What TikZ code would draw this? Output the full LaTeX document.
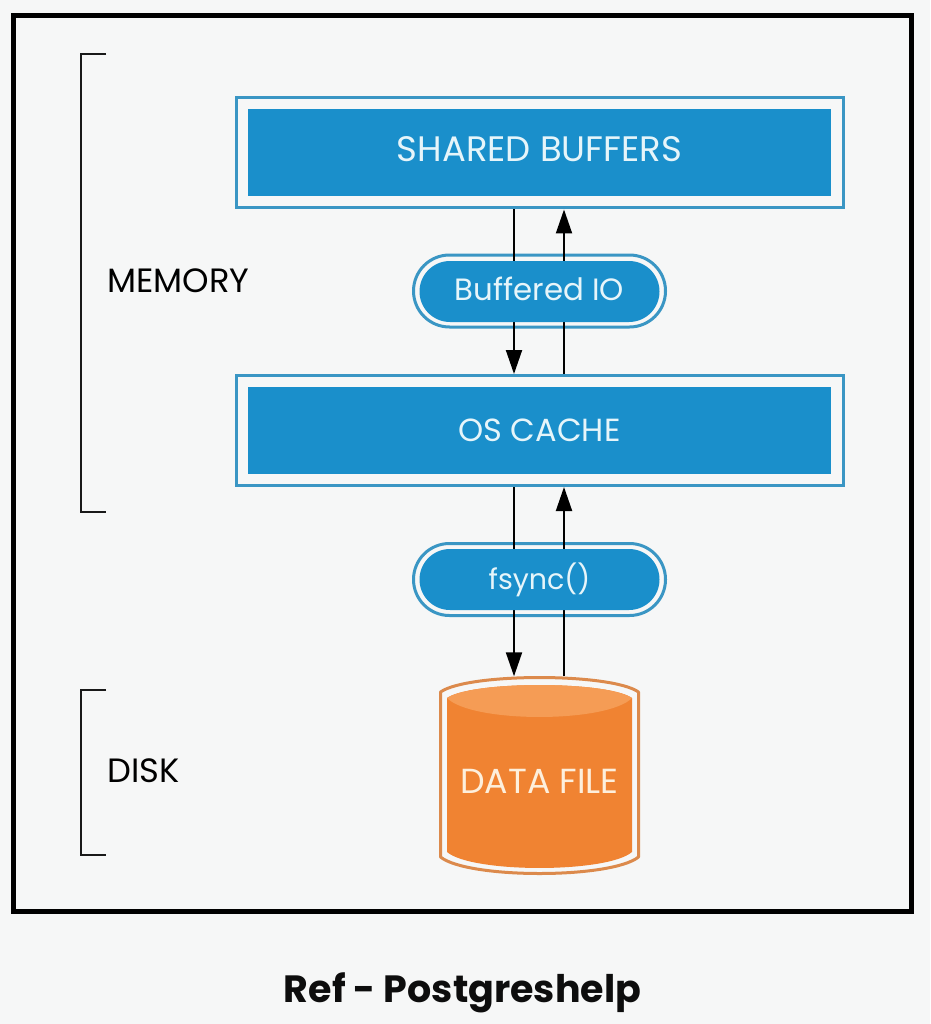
\documentclass[tikz,border=0pt]{standalone}
\usepackage{fontspec}
\setmainfont{Poppins}
\usetikzlibrary{shapes.misc, arrows.meta}

\definecolor{pagebg}{HTML}{F6F7F7}
\definecolor{boxblue}{HTML}{1A8FCB}
\definecolor{ringblue}{HTML}{3A96C4}
\definecolor{boxtext}{HTML}{E6F5FA}
\definecolor{drumorange}{HTML}{F08332}
\definecolor{drumtop}{HTML}{F59C55}
\definecolor{drumring}{HTML}{DC8A4C}
\definecolor{drumtext}{HTML}{FDEFDC}

\begin{document}
\begin{tikzpicture}[
    x=1pt,
    y=-1pt,
    inner sep=0pt,
    memoryring/.style={rectangle, draw=ringblue, line width=3pt,
        minimum width=607pt, minimum height=110pt, outer sep=1.5pt},
    memorybox/.style={rectangle, fill=boxblue, minimum width=583pt, minimum height=87pt,
        text=boxtext},
    pillring/.style={rounded rectangle, draw=ringblue, line width=3pt,
        minimum width=252pt, minimum height=72pt, outer sep=1.5pt},
    pillbox/.style={rounded rectangle, fill=boxblue, minimum width=240pt,
        minimum height=61pt, text=boxtext},
    sidelabel/.style={anchor=west, text=black, font=\fontsize{33.7}{40}\selectfont},
    bracketline/.style={draw=black!90, line width=2pt},
    flow/.style={draw=black, line width=2pt, -{Triangle[width=16pt,length=24pt]}},
]
    % page and frame
    \fill[pagebg] (0,0) rectangle (930,1024);
    \draw[black, line width=5.5pt] (13.5,15.5) rectangle (911.5,911.5);

    % memory side
    \node[sidelabel] (memory) at (107,281) {MEMORY};
    \coordinate (memorytop) at (106,54);
    \coordinate (memoryend) at (106,512);
    \draw[bracketline] (memorytop) -- ++(-25,0) |- (memoryend);

    \node[memoryring] (sharedring) at (540,153) {};
    \node[memoryring] (cachering) at (540,430.5) {};
    \node[pillring] (bufferedring) at (539.5,291) {};
    \node[pillring] (fsyncring) at (539.5,579.5) {};

    % disk side
    \node[sidelabel] (disk) at (107,771) {DISK};
    \coordinate (disktop) at (106,690);
    \coordinate (diskend) at (106,855);
    \draw[bracketline] (disktop) -- ++(-25,0) |- (diskend);

    % drum, outer ring then body then lit top
    \draw[drumring, line width=3pt, line join=round]
        (440.5,692) .. controls (468,672.7) and (611,672.7) .. (638.5,692)
        -- (638.5,857) .. controls (611,879) and (468,879) .. (440.5,857) -- cycle;
    \fill[drumorange]
        (447,698) .. controls (472,680.7) and (607,680.7) .. (632,698)
        -- (632,852) .. controls (607,873.3) and (472,873.3) .. (447,852) -- cycle;
    \fill[drumtop]
        (447,698) .. controls (472,680.7) and (607,680.7) .. (632,698)
        .. controls (607,723.3) and (472,723.3) .. (447,698) -- cycle;
    \node[minimum width=201pt, minimum height=199pt, text height=34pt, text=drumtext,
        font=\fontsize{34.8}{40}\selectfont] (datafile) at (539.5,776) {DATA FILE};

    % connectors go over the rings, under the pills
    \draw[flow] ([xshift=-26pt]sharedring.south) -- ([xshift=-26pt]cachering.north);
    \draw[flow] ([xshift=24pt]cachering.north) -- ([xshift=24pt]sharedring.south);
    \draw[flow] ([xshift=-26pt]cachering.south) -- ([xshift=-26pt]cachering.south |- datafile.north);
    \draw[flow] ([xshift=24pt]cachering.south |- datafile.north) -- ([xshift=24pt]cachering.south);

    \node[memorybox, text depth=7pt, font=\fontsize{35.4}{42}\selectfont] (sharedbuffers) at (539.5,152.5) {SHARED BUFFERS};
    \node[memorybox, font=\fontsize{32}{38}\selectfont] (oscache) at (539.5,430) {OS CACHE};
    \node[pillbox, text depth=6pt, font=\fontsize{30.8}{36}\selectfont] (buffered) at (539.5,291.5) {Buffered IO};
    \node[pillbox, font=\fontsize{28.5}{34}\selectfont] (fsync) at (539.5,579.5) {fsync()};

    \node[font=\fontsize{38}{46}\selectfont\bfseries, text=black!95] (caption) at (462.5,993) {Ref - Postgreshelp};
\end{tikzpicture}
\end{document}
